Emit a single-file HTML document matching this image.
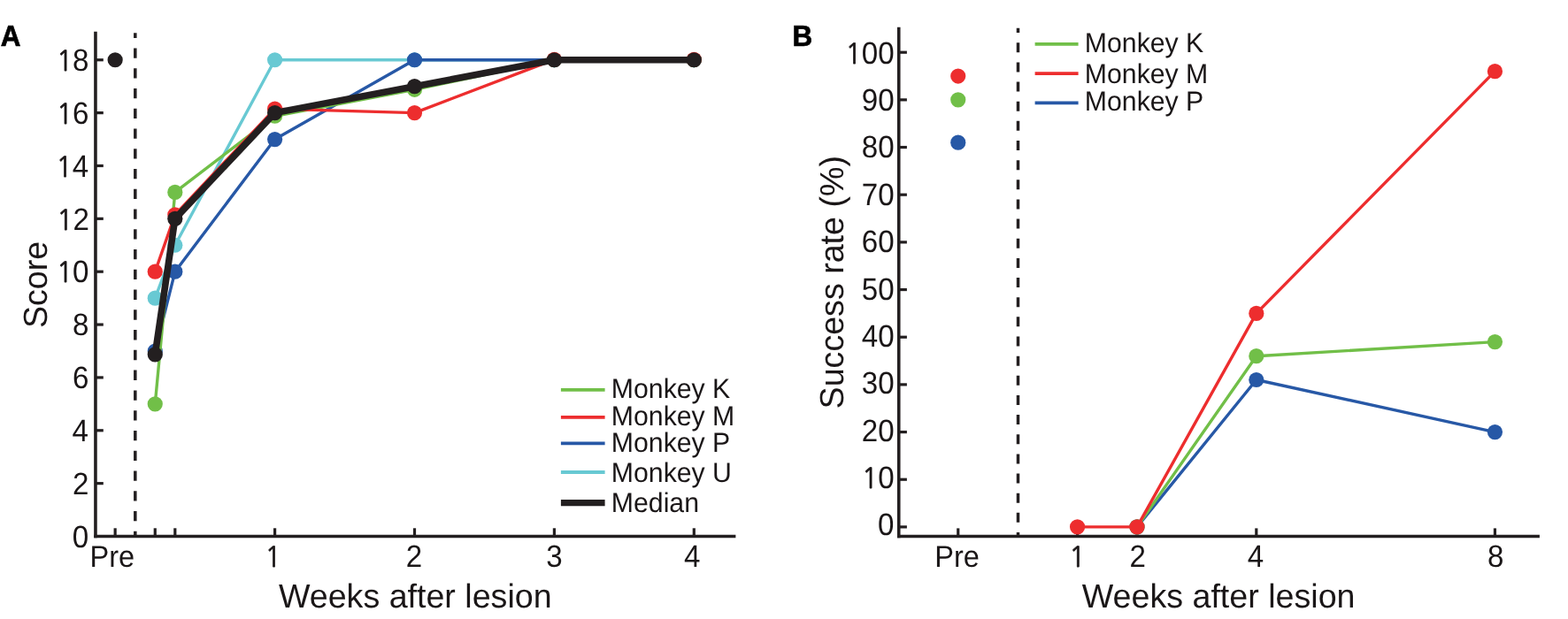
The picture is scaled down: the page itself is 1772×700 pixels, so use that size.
<!DOCTYPE html>
<html><head><meta charset="utf-8"><title>Figure</title>
<style>
html,body{margin:0;padding:0;background:#fff;}
body{width:1772px;height:700px;overflow:hidden;}
svg{display:block;}
svg text{font-family:"Liberation Sans", Arial, Helvetica, sans-serif;fill:#1a1617;text-rendering:geometricPrecision;}
</style></head><body>
<svg width="1772" height="700" viewBox="0 0 1772 700">
<rect width="1772" height="700" fill="#fff"/>
<line x1="106.30" y1="606.50" x2="831.40" y2="606.50" stroke="#231f20" stroke-width="3.6" />
<line x1="107.95" y1="35.70" x2="107.95" y2="608.30" stroke="#231f20" stroke-width="3.6" />
<line x1="107.95" y1="546.64" x2="116.80" y2="546.64" stroke="#231f20" stroke-width="3.2" />
<line x1="107.95" y1="486.78" x2="116.80" y2="486.78" stroke="#231f20" stroke-width="3.2" />
<line x1="107.95" y1="426.92" x2="116.80" y2="426.92" stroke="#231f20" stroke-width="3.2" />
<line x1="107.95" y1="367.06" x2="116.80" y2="367.06" stroke="#231f20" stroke-width="3.2" />
<line x1="107.95" y1="307.20" x2="116.80" y2="307.20" stroke="#231f20" stroke-width="3.2" />
<line x1="107.95" y1="247.34" x2="116.80" y2="247.34" stroke="#231f20" stroke-width="3.2" />
<line x1="107.95" y1="187.48" x2="116.80" y2="187.48" stroke="#231f20" stroke-width="3.2" />
<line x1="107.95" y1="127.62" x2="116.80" y2="127.62" stroke="#231f20" stroke-width="3.2" />
<line x1="107.95" y1="67.76" x2="116.80" y2="67.76" stroke="#231f20" stroke-width="3.2" />
<line x1="130.14" y1="597.30" x2="130.14" y2="606.50" stroke="#231f20" stroke-width="3.2" />
<line x1="175.26" y1="597.30" x2="175.26" y2="606.50" stroke="#231f20" stroke-width="3.2" />
<line x1="197.81" y1="597.30" x2="197.81" y2="606.50" stroke="#231f20" stroke-width="3.2" />
<line x1="310.60" y1="597.30" x2="310.60" y2="606.50" stroke="#231f20" stroke-width="3.2" />
<line x1="468.50" y1="597.30" x2="468.50" y2="606.50" stroke="#231f20" stroke-width="3.2" />
<line x1="626.40" y1="597.30" x2="626.40" y2="606.50" stroke="#231f20" stroke-width="3.2" />
<line x1="784.30" y1="597.30" x2="784.30" y2="606.50" stroke="#231f20" stroke-width="3.2" />
<line x1="152.80" y1="37.30" x2="152.80" y2="606.50" stroke="#231f20" stroke-width="3.5" stroke-dasharray="11.3 11.46" stroke-dashoffset="5.6"/>
<text transform="translate(81.78 618.73) scale(0.942 1)" font-size="35.15" >0</text>
<text transform="translate(82.11 559.04) scale(0.942 1)" font-size="35.15" >2</text>
<text transform="translate(81.45 499.01) scale(0.942 1)" font-size="35.15" >4</text>
<text transform="translate(82.11 439.15) scale(0.942 1)" font-size="35.15" >6</text>
<text transform="translate(82.11 379.29) scale(0.942 1)" font-size="35.15" >8</text>
<text transform="translate(63.90 319.43) scale(0.942 1)" font-size="35.15" ><tspan style="font-family:NanumGothic;font-size:0.905em;stroke:#1a1617;stroke-width:0.025em">1</tspan>0</text>
<text transform="translate(64.23 259.57) scale(0.942 1)" font-size="35.15" ><tspan style="font-family:NanumGothic;font-size:0.905em;stroke:#1a1617;stroke-width:0.025em">1</tspan>2</text>
<text transform="translate(63.57 199.53) scale(0.942 1)" font-size="35.15" ><tspan style="font-family:NanumGothic;font-size:0.905em;stroke:#1a1617;stroke-width:0.025em">1</tspan>4</text>
<text transform="translate(63.90 139.85) scale(0.942 1)" font-size="35.15" ><tspan style="font-family:NanumGothic;font-size:0.905em;stroke:#1a1617;stroke-width:0.025em">1</tspan>6</text>
<text transform="translate(63.90 79.99) scale(0.942 1)" font-size="35.15" ><tspan style="font-family:NanumGothic;font-size:0.905em;stroke:#1a1617;stroke-width:0.025em">1</tspan>8</text>
<text transform="translate(101.52 641.20) scale(0.952 1)" font-size="34.2" >Pre</text>
<text transform="translate(299.38 641.20) scale(0.942 1)" font-size="35.15" ><tspan style="font-family:NanumGothic;font-size:0.905em;stroke:#1a1617;stroke-width:0.025em">1</tspan></text>
<text transform="translate(458.78 641.20) scale(0.942 1)" font-size="35.15" >2</text>
<text transform="translate(617.29 641.20) scale(0.942 1)" font-size="35.15" >3</text>
<text transform="translate(772.94 641.20) scale(0.942 1)" font-size="35.15" >4</text>
<text transform="translate(314.94 687.40) scale(0.995 1)" font-size="37.8" >Weeks after lesion</text>
<text transform="translate(53.20 371.07) rotate(-90) scale(0.995 1)" font-size="37.8" >Score</text>
<text transform="translate(0.76 51.50) scale(0.945 1)" font-size="33.2" font-weight="bold" style="fill:#000;stroke:#000;stroke-width:0.7px">A</text>
<polyline points="175.26,337.13 197.81,277.27 310.60,67.76 468.50,67.76 626.40,67.76 784.30,67.76" fill="none" stroke="#68c9d3" stroke-width="3.4" stroke-linejoin="round" stroke-linecap="round"/>
<circle cx="175.26" cy="337.13" r="8.6" fill="#68c9d3"/>
<circle cx="197.81" cy="277.27" r="8.6" fill="#68c9d3"/>
<circle cx="310.60" cy="67.76" r="8.6" fill="#68c9d3"/>
<circle cx="468.50" cy="67.76" r="8.6" fill="#68c9d3"/>
<circle cx="626.40" cy="67.76" r="8.6" fill="#68c9d3"/>
<circle cx="784.30" cy="67.76" r="8.6" fill="#68c9d3"/>
<polyline points="175.26,396.99 197.81,307.20 310.60,157.55 468.50,67.76 626.40,67.76 784.30,67.76" fill="none" stroke="#2758a6" stroke-width="3.4" stroke-linejoin="round" stroke-linecap="round"/>
<circle cx="175.26" cy="396.99" r="8.6" fill="#2758a6"/>
<circle cx="197.81" cy="307.20" r="8.6" fill="#2758a6"/>
<circle cx="310.60" cy="157.55" r="8.6" fill="#2758a6"/>
<circle cx="468.50" cy="67.76" r="8.6" fill="#2758a6"/>
<circle cx="626.40" cy="67.76" r="8.6" fill="#2758a6"/>
<circle cx="784.30" cy="67.76" r="8.6" fill="#2758a6"/>
<polyline points="175.26,456.85 197.81,217.41 310.60,131.21 468.50,101.28 626.40,67.76 784.30,67.76" fill="none" stroke="#71bf48" stroke-width="3.4" stroke-linejoin="round" stroke-linecap="round"/>
<circle cx="175.26" cy="456.85" r="8.6" fill="#71bf48"/>
<circle cx="197.81" cy="217.41" r="8.6" fill="#71bf48"/>
<circle cx="310.60" cy="131.21" r="8.6" fill="#71bf48"/>
<circle cx="468.50" cy="101.28" r="8.6" fill="#71bf48"/>
<circle cx="626.40" cy="67.76" r="8.6" fill="#71bf48"/>
<circle cx="784.30" cy="67.76" r="8.6" fill="#71bf48"/>
<polyline points="175.26,307.20 197.81,242.85 310.60,123.13 468.50,127.62 626.40,67.31 784.30,67.31" fill="none" stroke="#ed2d2e" stroke-width="3.4" stroke-linejoin="round" stroke-linecap="round"/>
<circle cx="175.26" cy="307.20" r="8.6" fill="#ed2d2e"/>
<circle cx="197.81" cy="242.85" r="8.6" fill="#ed2d2e"/>
<circle cx="310.60" cy="123.13" r="8.6" fill="#ed2d2e"/>
<circle cx="468.50" cy="127.62" r="8.6" fill="#ed2d2e"/>
<circle cx="626.40" cy="67.31" r="8.6" fill="#ed2d2e"/>
<circle cx="784.30" cy="67.31" r="8.6" fill="#ed2d2e"/>
<polyline points="175.26,400.88 197.81,247.34 310.60,127.62 468.50,97.69 626.40,67.76 784.30,67.76" fill="none" stroke="#231f20" stroke-width="7.6" stroke-linejoin="round" stroke-linecap="round"/>
<circle cx="175.26" cy="400.88" r="8.6" fill="#231f20"/>
<circle cx="197.81" cy="247.34" r="8.6" fill="#231f20"/>
<circle cx="310.60" cy="127.62" r="8.6" fill="#231f20"/>
<circle cx="468.50" cy="97.69" r="8.6" fill="#231f20"/>
<circle cx="626.40" cy="67.76" r="8.6" fill="#231f20"/>
<circle cx="784.30" cy="67.76" r="8.6" fill="#231f20"/>
<circle cx="130.14" cy="67.76" r="8.6" fill="#231f20"/>
<line x1="633.90" y1="440.80" x2="683.60" y2="440.80" stroke="#71bf48" stroke-width="3.7" />
<text transform="translate(690.78 449.80) scale(0.973 1)" font-size="31.1" >Monkey K</text>
<line x1="633.90" y1="471.80" x2="683.60" y2="471.80" stroke="#ed2d2e" stroke-width="3.7" />
<text transform="translate(690.78 480.80) scale(0.973 1)" font-size="31.1" >Monkey M</text>
<line x1="633.90" y1="501.40" x2="683.60" y2="501.40" stroke="#2758a6" stroke-width="3.7" />
<text transform="translate(690.78 511.20) scale(0.973 1)" font-size="31.1" >Monkey P</text>
<line x1="633.90" y1="534.00" x2="683.60" y2="534.00" stroke="#68c9d3" stroke-width="3.8" />
<text transform="translate(690.78 544.50) scale(0.973 1)" font-size="31.1" >Monkey U</text>
<line x1="633.90" y1="568.60" x2="683.60" y2="568.60" stroke="#231f20" stroke-width="7.2" />
<text transform="translate(690.78 578.80) scale(0.973 1)" font-size="31.1" >Median</text>
<line x1="1014.00" y1="606.50" x2="1739.90" y2="606.50" stroke="#231f20" stroke-width="3.6" />
<line x1="1015.75" y1="30.65" x2="1015.75" y2="608.30" stroke="#231f20" stroke-width="3.6" />
<line x1="1015.75" y1="595.90" x2="1024.90" y2="595.90" stroke="#231f20" stroke-width="3.2" />
<line x1="1015.75" y1="542.23" x2="1024.90" y2="542.23" stroke="#231f20" stroke-width="3.2" />
<line x1="1015.75" y1="488.56" x2="1024.90" y2="488.56" stroke="#231f20" stroke-width="3.2" />
<line x1="1015.75" y1="434.89" x2="1024.90" y2="434.89" stroke="#231f20" stroke-width="3.2" />
<line x1="1015.75" y1="381.22" x2="1024.90" y2="381.22" stroke="#231f20" stroke-width="3.2" />
<line x1="1015.75" y1="327.55" x2="1024.90" y2="327.55" stroke="#231f20" stroke-width="3.2" />
<line x1="1015.75" y1="273.88" x2="1024.90" y2="273.88" stroke="#231f20" stroke-width="3.2" />
<line x1="1015.75" y1="220.21" x2="1024.90" y2="220.21" stroke="#231f20" stroke-width="3.2" />
<line x1="1015.75" y1="166.54" x2="1024.90" y2="166.54" stroke="#231f20" stroke-width="3.2" />
<line x1="1015.75" y1="112.87" x2="1024.90" y2="112.87" stroke="#231f20" stroke-width="3.2" />
<line x1="1015.75" y1="59.20" x2="1024.90" y2="59.20" stroke="#231f20" stroke-width="3.2" />
<line x1="1082.75" y1="597.40" x2="1082.75" y2="606.50" stroke="#231f20" stroke-width="3.2" />
<line x1="1217.57" y1="597.40" x2="1217.57" y2="606.50" stroke="#231f20" stroke-width="3.2" />
<line x1="1284.98" y1="597.40" x2="1284.98" y2="606.50" stroke="#231f20" stroke-width="3.2" />
<line x1="1419.80" y1="597.40" x2="1419.80" y2="606.50" stroke="#231f20" stroke-width="3.2" />
<line x1="1689.44" y1="597.40" x2="1689.44" y2="606.50" stroke="#231f20" stroke-width="3.2" />
<line x1="1150.50" y1="31.70" x2="1150.50" y2="606.50" stroke="#231f20" stroke-width="3.5" stroke-dasharray="11 11.15" stroke-dashoffset="5.6"/>
<text transform="translate(991.98 605.43) scale(0.942 1)" font-size="35.15" >0</text>
<text transform="translate(974.10 552.05) scale(0.942 1)" font-size="35.15" ><tspan style="font-family:NanumGothic;font-size:0.905em;stroke:#1a1617;stroke-width:0.025em">1</tspan>0</text>
<text transform="translate(973.77 498.68) scale(0.942 1)" font-size="35.15" >20</text>
<text transform="translate(973.77 445.30) scale(0.942 1)" font-size="35.15" >30</text>
<text transform="translate(973.77 391.93) scale(0.942 1)" font-size="35.15" >40</text>
<text transform="translate(973.77 338.55) scale(0.942 1)" font-size="35.15" >50</text>
<text transform="translate(973.77 285.18) scale(0.942 1)" font-size="35.15" >60</text>
<text transform="translate(973.77 231.80) scale(0.942 1)" font-size="35.15" >70</text>
<text transform="translate(973.77 178.43) scale(0.942 1)" font-size="35.15" >80</text>
<text transform="translate(973.77 125.05) scale(0.942 1)" font-size="35.15" >90</text>
<text transform="translate(955.56 71.68) scale(0.942 1)" font-size="35.15" ><tspan style="font-family:NanumGothic;font-size:0.905em;stroke:#1a1617;stroke-width:0.025em">1</tspan>00</text>
<text transform="translate(1056.27 641.30) scale(0.952 1)" font-size="34.2" >Pre</text>
<text transform="translate(1208.28 641.30) scale(0.942 1)" font-size="35.15" ><tspan style="font-family:NanumGothic;font-size:0.905em;stroke:#1a1617;stroke-width:0.025em">1</tspan></text>
<text transform="translate(1276.43 641.30) scale(0.942 1)" font-size="35.15" >2</text>
<text transform="translate(1409.69 641.30) scale(0.942 1)" font-size="35.15" >4</text>
<text transform="translate(1681.09 641.30) scale(0.942 1)" font-size="35.15" >8</text>
<text transform="translate(1222.79 687.40) scale(0.995 1)" font-size="37.8" >Weeks after lesion</text>
<text transform="translate(953.10 462.42) rotate(-90) scale(0.995 1)" font-size="37.8" >Success rate (%)</text>
<text transform="translate(895.50 51.50) scale(0.945 1)" font-size="33.2" font-weight="bold" style="fill:#000;stroke:#000;stroke-width:0.7px">B</text>
<polyline points="1284.98,595.90 1419.80,429.52 1689.44,488.56" fill="none" stroke="#2758a6" stroke-width="3.4" stroke-linejoin="round" stroke-linecap="round"/>
<circle cx="1284.98" cy="595.90" r="8.6" fill="#2758a6"/>
<circle cx="1419.80" cy="429.52" r="8.6" fill="#2758a6"/>
<circle cx="1689.44" cy="488.56" r="8.6" fill="#2758a6"/>
<circle cx="1082.75" cy="161.17" r="8.6" fill="#2758a6"/>
<polyline points="1284.98,595.90 1419.80,402.69 1689.44,386.59" fill="none" stroke="#71bf48" stroke-width="3.4" stroke-linejoin="round" stroke-linecap="round"/>
<circle cx="1284.98" cy="595.90" r="8.6" fill="#71bf48"/>
<circle cx="1419.80" cy="402.69" r="8.6" fill="#71bf48"/>
<circle cx="1689.44" cy="386.59" r="8.6" fill="#71bf48"/>
<circle cx="1082.75" cy="112.87" r="8.6" fill="#71bf48"/>
<polyline points="1217.57,595.90 1284.98,595.90 1419.80,354.38 1689.44,80.67" fill="none" stroke="#ed2d2e" stroke-width="3.4" stroke-linejoin="round" stroke-linecap="round"/>
<circle cx="1217.57" cy="595.90" r="8.6" fill="#ed2d2e"/>
<circle cx="1284.98" cy="595.90" r="8.6" fill="#ed2d2e"/>
<circle cx="1419.80" cy="354.38" r="8.6" fill="#ed2d2e"/>
<circle cx="1689.44" cy="80.67" r="8.6" fill="#ed2d2e"/>
<circle cx="1082.75" cy="86.03" r="8.6" fill="#ed2d2e"/>
<line x1="1169.60" y1="49.90" x2="1218.60" y2="49.90" stroke="#71bf48" stroke-width="3.7" />
<text transform="translate(1225.78 59.20) scale(0.973 1)" font-size="31.1" >Monkey K</text>
<line x1="1169.60" y1="83.05" x2="1218.60" y2="83.05" stroke="#ed2d2e" stroke-width="3.7" />
<text transform="translate(1225.78 93.80) scale(0.973 1)" font-size="31.1" >Monkey M</text>
<line x1="1169.60" y1="116.45" x2="1218.60" y2="116.45" stroke="#2758a6" stroke-width="3.7" />
<text transform="translate(1225.78 125.30) scale(0.973 1)" font-size="31.1" >Monkey P</text>
</svg>
</body></html>
